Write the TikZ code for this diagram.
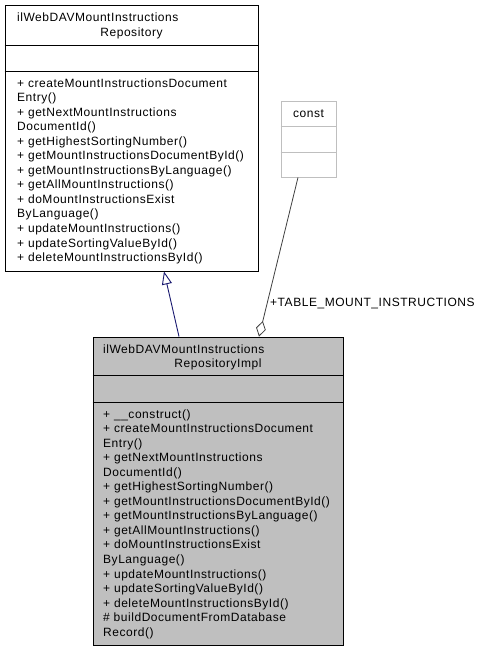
\documentclass[tikz,border=0pt]{standalone}
\usepackage{fontspec}
\setmainfont{Liberation Sans}[LetterSpace=4.5]
\usetikzlibrary{arrows.meta}
\definecolor{edgenavy}{HTML}{191970}
\definecolor{edgegray}{HTML}{404040}
\definecolor{implfill}{HTML}{BFBFBF}
\definecolor{constborder}{HTML}{BFBFBF}
\begin{document}
\begin{tikzpicture}[x=1pt,y=-1pt,
  txt/.style={inner sep=0pt, font=\fontsize{12}{14.55}\selectfont, align=left, anchor=base west},
  ctxt/.style={inner sep=0pt, font=\fontsize{12}{14.55}\selectfont, anchor=base},
  cls/.style={draw=black, line width=0.9pt, inner sep=0pt},
  sep/.style={draw=black, line width=0.9pt},
  inh/.style={draw=edgenavy, line width=0.9pt, -{Triangle[fill=white, length=13pt, width=10pt]}},
  agg/.style={draw=edgegray, line width=0.8pt, {Diamond[fill=white, length=16pt, width=10pt]}-}
]
\useasboundingbox[fill=white] (0,0) rectangle (491,653);

% base class
\node[cls, fill=white, minimum width=253pt, minimum height=266pt] (repo) at (131.5,138) {};
\draw[sep] (repo.west |- 0,45) -- (repo.east |- 0,45);
\draw[sep] (repo.west |- 0,71) -- (repo.east |- 0,71);
\node[txt] (repoT1) at (17,21) {ilWebDAVMountInstructions};
\node[ctxt] (repoT2) at (131.5,36) {Repository};
% anchor base = baseline of the last line
\node[txt] (repoM) at (17,261.6) {+ createMountInstructionsDocument\\
Entry()\\
+ getNextMountInstructions\\
DocumentId()\\
+ getHighestSortingNumber()\\
+ getMountInstructionsDocumentById()\\
+ getMountInstructionsByLanguage()\\
+ getAllMountInstructions()\\
+ doMountInstructionsExist\\
ByLanguage()\\
+ updateMountInstructions()\\
+ updateSortingValueById()\\
+ deleteMountInstructionsById()};

% const
\node[draw=constborder, line width=0.9pt, fill=white, inner sep=0pt, minimum width=55pt, minimum height=76pt] (const) at (308.5,139) {};
\draw[draw=constborder, line width=0.9pt] (const.west |- 0,126) -- (const.east |- 0,126);
\draw[draw=constborder, line width=0.9pt] (const.west |- 0,152) -- (const.east |- 0,152);
\node[ctxt] (constT) at (308.5,117) {const};

% implementation class
\node[cls, fill=implfill, minimum width=250pt, minimum height=308pt] (impl) at (218,491) {};
\draw[sep] (impl.west |- 0,375) -- (impl.east |- 0,375);
\draw[sep] (impl.west |- 0,402) -- (impl.east |- 0,402);
\node[txt] (implT1) at (103,353) {ilWebDAVMountInstructions};
\node[ctxt] (implT2) at (218,367) {RepositoryImpl};
\node[txt] (implM) at (103,636.25) {+ \_\_construct()\\
+ createMountInstructionsDocument\\
Entry()\\
+ getNextMountInstructions\\
DocumentId()\\
+ getHighestSortingNumber()\\
+ getMountInstructionsDocumentById()\\
+ getMountInstructionsByLanguage()\\
+ getAllMountInstructions()\\
+ doMountInstructionsExist\\
ByLanguage()\\
+ updateMountInstructions()\\
+ updateSortingValueById()\\
+ deleteMountInstructionsById()\\
\# buildDocumentFromDatabase\\
Record()};

% edges
\coordinate (inhS) at ([xshift=-39pt]impl.north);
\coordinate (inhE) at ([xshift=32.5pt]repo.south);
\draw[inh] (inhS) -- (inhE);
\coordinate (aggS) at ([xshift=41pt]impl.north);
\coordinate (aggE) at ([xshift=-10.5pt]const.south);
\draw[agg] (aggS) -- (aggE);
\node[txt] (lbl) at (270,306) {+TABLE\_MOUNT\_INSTRUCTIONS};
\end{tikzpicture}
\end{document}
